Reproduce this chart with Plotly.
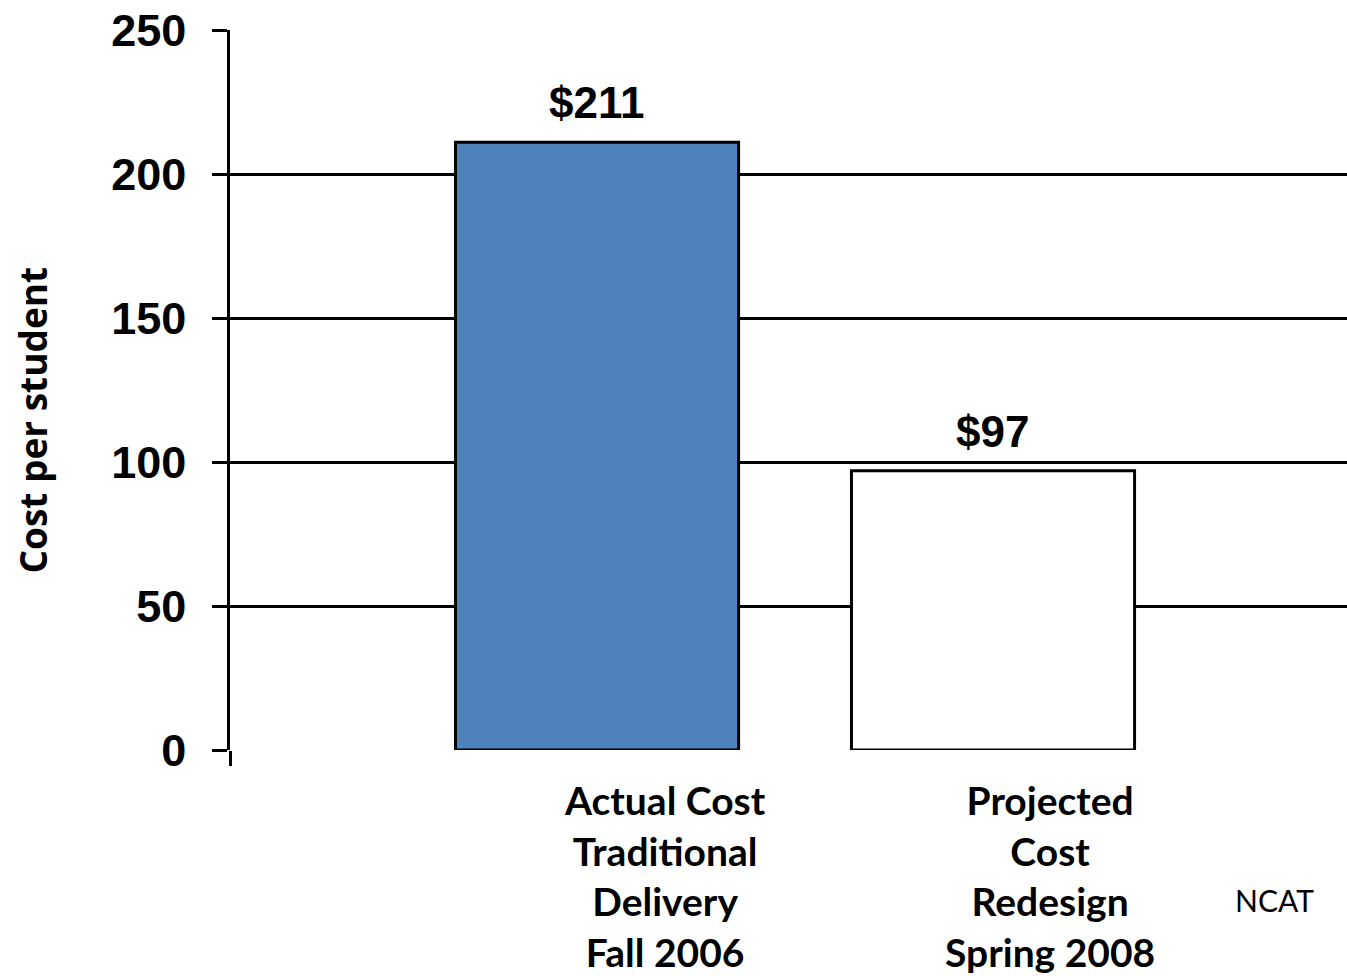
import plotly.graph_objects as go

categories = ["Actual Cost<br>Traditional<br>Delivery<br>Fall 2006",
              "Projected<br>Cost<br>Redesign<br>Spring 2008"]
values = [211, 97]
bar_colors = ["#4F81BD", "#FFFFFF"]
y_ticks = [0, 50, 100, 150, 200, 250]
y_title = "Cost per student"
source_note = "NCAT"
label_shifts = [68, 57]

fig = go.Figure()
fig.add_trace(go.Bar(
    x=categories, y=values,
    width=0.715,
    marker=dict(color=bar_colors, line=dict(color="black", width=3)),
    showlegend=False, hoverinfo="skip",
))

x_left, x_right = -0.927, 1.894
fig.update_layout(
    width=1347, height=976,
    margin=dict(l=230, r=0, t=30, b=226),
    paper_bgcolor="white", plot_bgcolor="white",
    xaxis=dict(range=[x_left, x_right], tickmode="array",
               tickvals=[x_left], ticktext=[""], ticks="outside",
               ticklen=15, tickwidth=2.5, tickcolor="black",
               showgrid=False, showline=False, zeroline=False),
    yaxis=dict(range=[0, 250], tickvals=y_ticks, ticks="outside",
               ticklen=15, tickwidth=2.5, tickcolor="black",
               showgrid=True, gridcolor="black", gridwidth=2.5,
               showline=True, linecolor="black", linewidth=2.5,
               zeroline=False,
               tickfont=dict(family="Liberation Sans, Arial", size=45,
                             color="black", weight="bold"),
               ticklabelstandoff=17),
)

annotations = []
for c, v in zip(categories, values):
    annotations.append(dict(
        x=c, y=v, xref="x", yref="y", text=f"${v}", showarrow=False,
        yanchor="bottom", yshift=13, xshift=-1,
        font=dict(family="Liberation Sans, Arial", size=44, color="black",
                  weight="bold")))
for c, s in zip(categories, label_shifts):
    annotations.append(dict(
        x=c, y=0, xref="x", yref="paper", text=c, showarrow=False,
        yanchor="top", yshift=-25, xshift=s, align="center",
        font=dict(family="Lato", size=39, color="black", weight="bold")))
annotations.append(dict(
    x=-0.177, y=0.458, xref="paper", yref="paper", text=y_title,
    showarrow=False, textangle=-90, xanchor="center", yanchor="middle",
    font=dict(family="Open Sans", size=37, color="black", weight="bold")))
annotations.append(dict(
    x=0.9355, y=-0.208, xref="paper", yref="paper", text=source_note,
    showarrow=False, xanchor="center", yanchor="middle",
    font=dict(family="Lato", size=30, color="black")))
fig.update_layout(annotations=annotations)

fig.write_html("out.html")
